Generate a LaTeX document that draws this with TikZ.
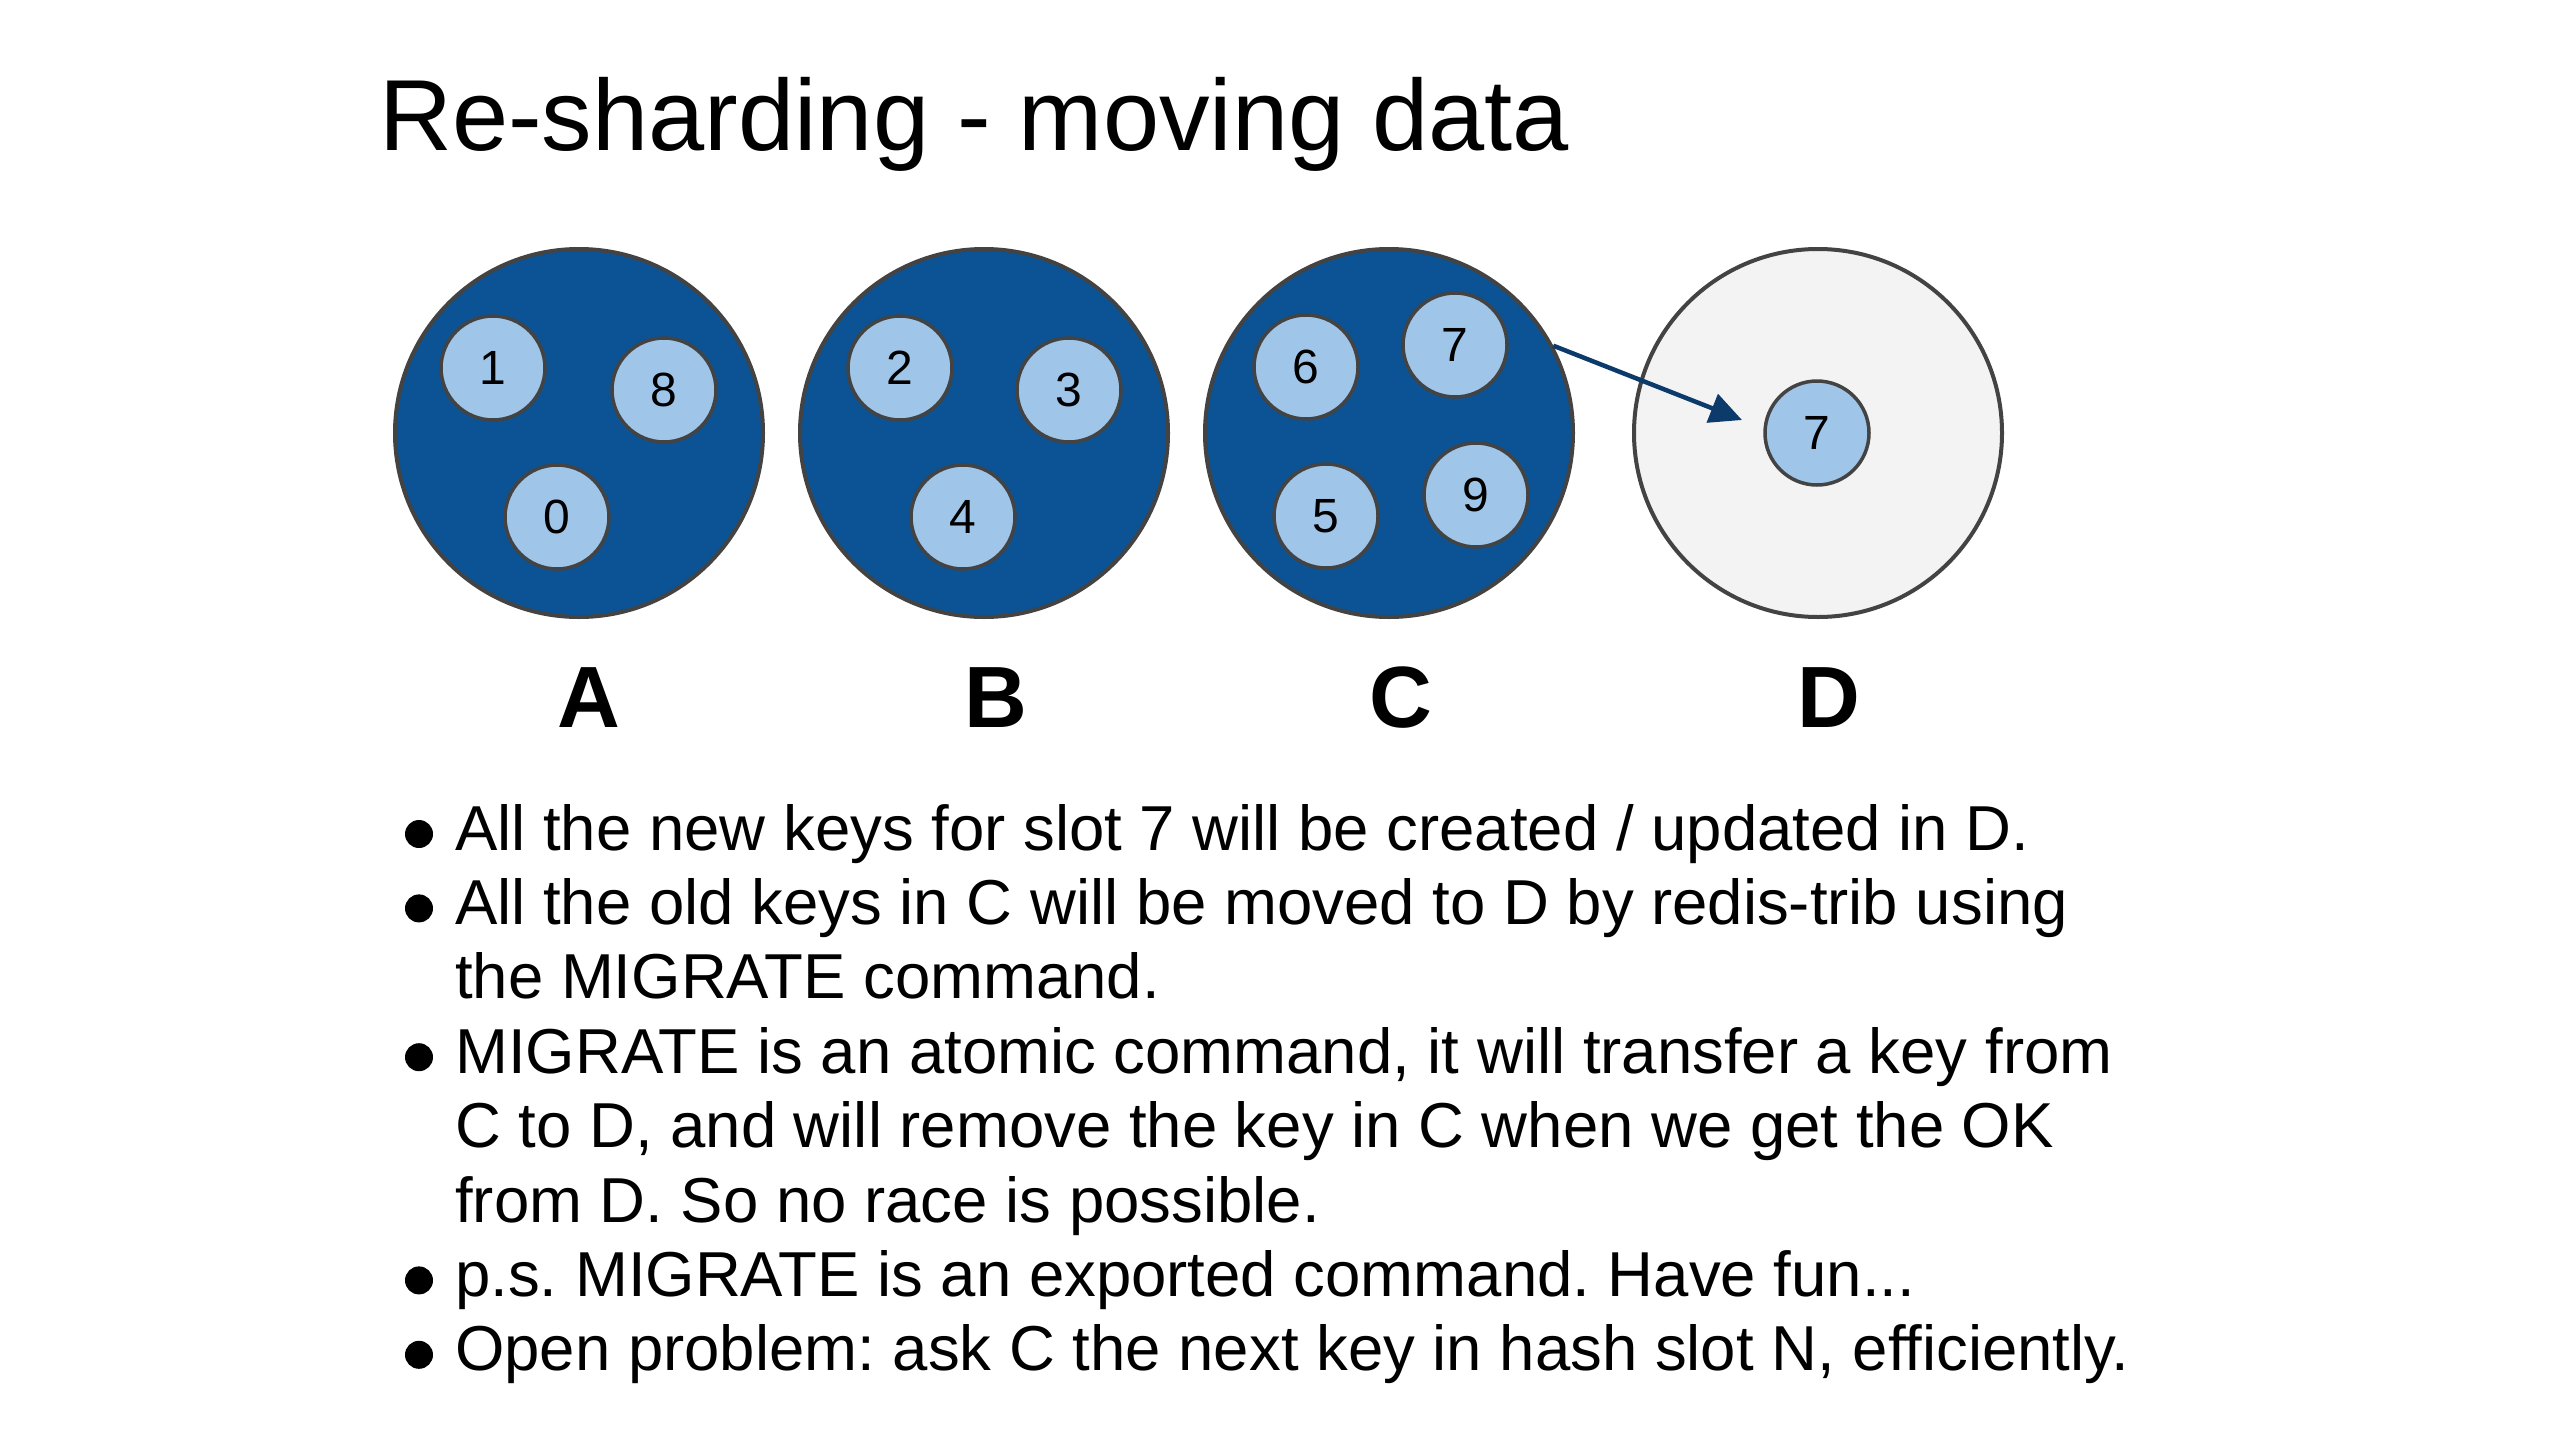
\documentclass[tikz,border=0pt]{standalone}
\usepackage{fontspec}
\setmainfont{Liberation Sans}
\usetikzlibrary{arrows.meta}
\frenchspacing
\definecolor{bigblue}{HTML}{0B5394}
\definecolor{lightblue}{HTML}{9FC5E8}
\definecolor{edgegray}{HTML}{434343}
\definecolor{pale}{HTML}{F3F3F3}
\definecolor{navy}{HTML}{0B3A6B}
\tikzset{
  shard/.style={circle, draw=edgegray, line width=4pt, fill=bigblue, minimum size=368pt, inner sep=0pt},
  newshard/.style={shard, fill=pale},
  slot/.style={circle, draw=edgegray, line width=3.5pt, fill=lightblue, minimum size=104pt, inner sep=0pt, font=\fontsize{48}{56}\selectfont},
  shardlabel/.style={anchor=base, inner sep=0pt, font=\fontsize{87}{100}\selectfont\bfseries},
  line/.style={anchor=base west, inner sep=0pt, font=\fontsize{63.5}{74}\selectfont},
  bulletdot/.style={circle, fill=black, minimum size=28pt, inner sep=0pt},
  move/.style={draw=navy, line width=4.5pt, -{Triangle[length=32pt, width=30pt]}}
}
\begin{document}
\begin{tikzpicture}[x=1pt, y=-1pt]
\useasboundingbox (0,0) rectangle (2560,1440);
\fill[white] (0,0) rectangle (2560,1440);
% title
\node[anchor=base west, inner sep=0pt, font=\fontsize{101}{120}\selectfont] (title) at (379,150) {Re-sharding - moving data};
% shards
\node[shard] (A) at (579,433) {};
\node[shard] (B) at (984,433) {};
\node[shard] (C) at (1389,433) {};
\node[newshard] (D) at (1818,433) {};
% slots
\node[slot] (a1) at (493,368) {1};
\node[slot] (a8) at (664,390) {8};
\node[slot] (a0) at (557,517) {0};
\node[slot] (b2) at (900,368) {2};
\node[slot] (b3) at (1069,390) {3};
\node[slot] (b4) at (963,517) {4};
\node[slot] (c6) at (1306,367) {6};
\node[slot] (c7) at (1455,345) {7};
\node[slot] (c5) at (1326,516) {5};
\node[slot] (c9) at (1476,495) {9};
\node[slot] (d7) at (1817,433) {7};
% arrow
\coordinate (arrowtip) at (1742,420);
\draw[move] (C.28) -- (arrowtip);
% labels
\node[shardlabel] (la) at (589,727) {A};
\node[shardlabel] (lb) at (996,727) {B};
\node[shardlabel] (lc) at (1401,727) {C};
\node[shardlabel] (ld) at (1829,727) {D};
% bullet lines
\node[line] (t0) at (455,850) {All the new keys for slot 7 will be created / updated in D.};
\node[line] (t1) at (455,924.4) {All the old keys in C will be moved to D by redis-trib using};
\node[line] (t2) at (455,998.8) {the MIGRATE command.};
\node[line] (t3) at (455,1073.2) {MIGRATE is an atomic command, it will transfer a key from};
\node[line] (t4) at (455,1147.6) {C to D, and will remove the key in C when we get the OK};
\node[line] (t5) at (455,1222) {from D. So no race is possible.};
\node[line] (t6) at (455,1296.4) {p.s. MIGRATE is an exported command. Have fun...};
\node[line] (t7) at (455,1370.8) {Open problem: ask C the next key in hash slot N, efficiently.};
\node[bulletdot] (d0) at (419,834) {};
\node[bulletdot] (d1) at (419,908.4) {};
\node[bulletdot] (d3) at (419,1057.2) {};
\node[bulletdot] (d6) at (419,1280.4) {};
\node[bulletdot] (d7) at (419,1354.8) {};
\end{tikzpicture}
\end{document}
